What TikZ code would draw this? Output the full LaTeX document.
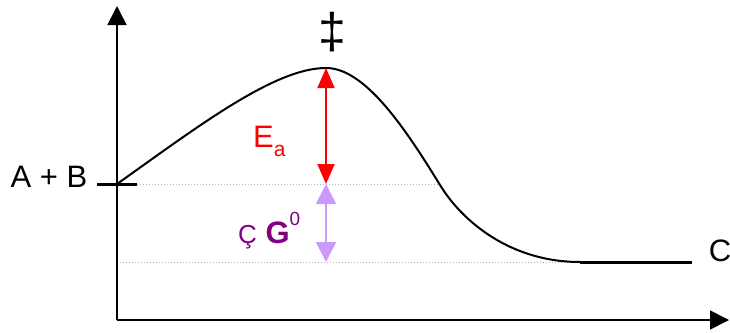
\documentclass[tikz,border=0pt]{standalone}
\usepackage{fontspec}
\setmainfont{Liberation Sans}
\usepackage{tikz}
\usetikzlibrary{arrows.meta,positioning}
\definecolor{EaRed}{HTML}{FF0000}
\definecolor{DGLilac}{HTML}{CC99FF}
\definecolor{DGPurple}{HTML}{800080}
\definecolor{GuideGray}{HTML}{B4B4B4}
\tikzset{
  axis/.style={draw=black, line width=1.6pt, -{Triangle[length=19pt,width=19pt]}},
  level/.style={draw=black, line width=3pt},
  guide/.style={draw=GuideGray, line width=1pt, dotted},
  curve/.style={draw=black, line width=2pt},
  barrier/.style={draw=EaRed, line width=1.8pt,
    {Triangle[length=20pt,width=17pt]}-{Triangle[length=20pt,width=17pt]}},
  gibbs/.style={draw=DGLilac, line width=1.8pt,
    {Triangle[length=20pt,width=20pt]}-{Triangle[length=20pt,width=20pt]}},
  label/.style={inner sep=0pt, font=\fontsize{31}{34}\selectfont}
}

\begin{document}
\begin{tikzpicture}[x=1pt, y=-1pt]
\useasboundingbox (0,0) rectangle (730,332);

% axes
\coordinate (origin) at (117,320);
\draw[axis] (origin) -- (117,6);
\draw[axis] (origin) -- (729,320);

% energy levels
\coordinate (peak) at (326,68);
\coordinate (react) at (326,184);
\coordinate (prod) at (326,262);
\draw[guide] (137,184) -- (438,184);
\draw[guide] (120,262) -- (580,262);
\draw[level] (97,184) -- (137,184);
\draw[level] (580,262) -- (692,262);

\draw[curve] (117,184) .. controls (200,125) and (275,68) .. (peak)
  .. controls (365,68) and (405,128) .. (440,185)
  .. controls (462,221) and (510,262) .. (580,262);

\node[label] (reactants) at (49,177) {A + B};
\node[label] (products) at (720,251) {C};
\node[inner sep=0pt, font=\fontsize{50}{50}\selectfont] (ts) at (332,32) {‡};

\draw[barrier] (peak) -- (react);
\draw[gibbs] (react) -- (prod);

\node[label, text=EaRed, anchor=base west] (Ea) at (253,147)
  {E\raisebox{-0.3em}{\fontsize{21}{21}\selectfont a}};
\node[label, text=DGPurple, anchor=base west] (dG) at (238,243)
  {{\fontsize{26}{26}\selectfont Ç} \textbf{G}\raisebox{0.55em}{\fontsize{19}{19}\selectfont 0}};
\end{tikzpicture}
\end{document}
